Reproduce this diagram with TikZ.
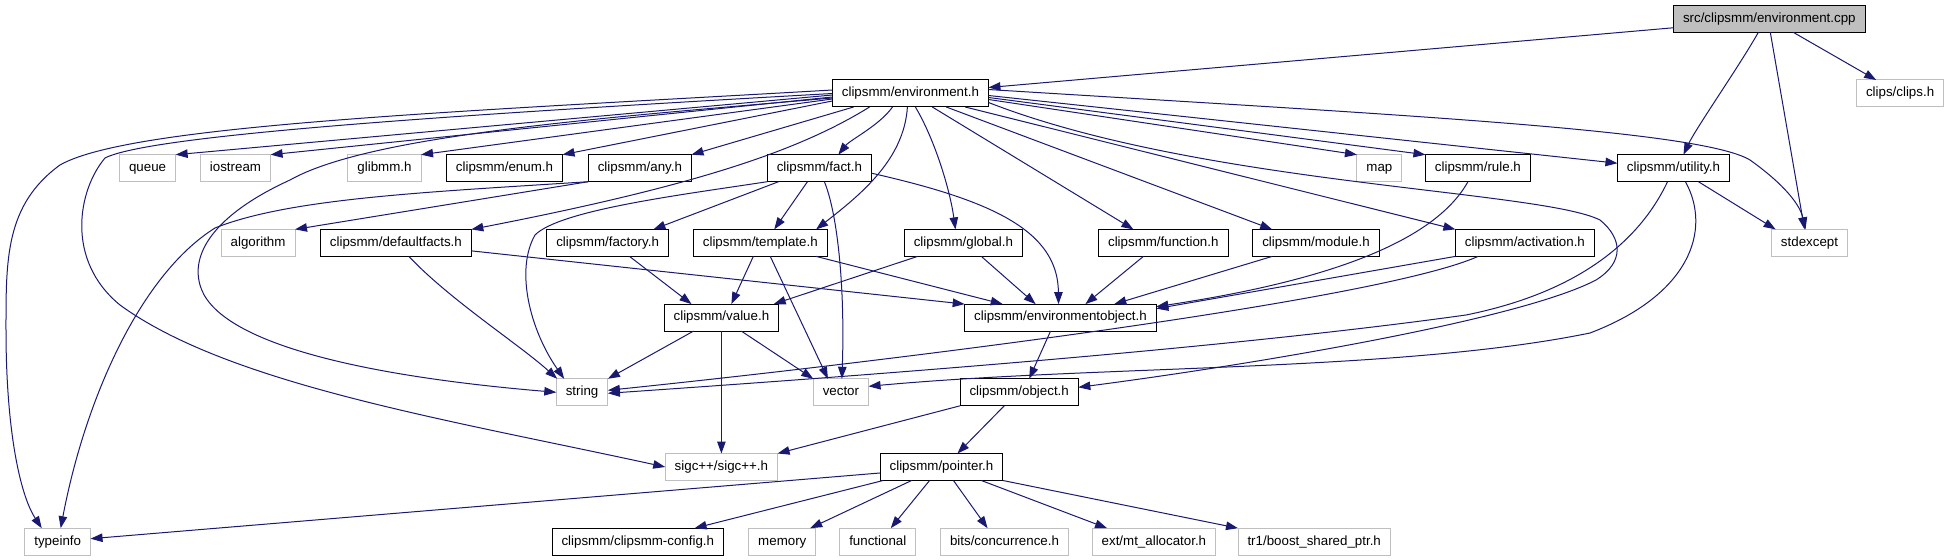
\documentclass[tikz,border=0pt]{standalone}
\usepackage{fontspec}
\setmainfont{Liberation Sans}
\usetikzlibrary{arrows.meta}
\definecolor{dotcolor1}{RGB}{25,25,112}
\definecolor{dotcolor2}{RGB}{191,191,191}
\tikzset{
  incfile/.style={draw=black, line width=1bp, fill=white, minimum height=27bp,
    inner xsep=9.5bp, inner ysep=0pt, text height=9.6bp, text depth=2.8bp,
    font=\fontsize{13.33bp}{16bp}\selectfont},
  sysfile/.style={incfile, draw=dotcolor2},
  srcfile/.style={incfile, fill=dotcolor2},
  incl/.style={draw=dotcolor1, line width=1bp, -{Triangle[length=12bp,width=8.5bp]}}
}
\begin{document}
\begin{tikzpicture}[x=1bp,y=-1bp,inner sep=0pt,outer sep=0pt]
  \useasboundingbox (0,0) rectangle (1953,560);
  % rank 0 and 1
  \node[srcfile] (cpp) at (1769.3,18.8) {src/clipsmm/environment.cpp};
  \node[incfile] (env) at (910.4,93.5) {clipsmm/environment.h};
  \node[sysfile] (clips) at (1900.1,93.5) {clips/clips.h};
  % rank 2
  \node[sysfile] (queue) at (147.6,168.2) {queue};
  \node[sysfile] (iostream) at (235.5,168.2) {iostream};
  \node[sysfile] (glibmm) at (384.5,168.2) {glibmm.h};
  \node[incfile] (enum) at (504.5,168.2) {clipsmm/enum.h};
  \node[incfile] (any) at (639.9,168.2) {clipsmm/any.h};
  \node[incfile] (fact) at (819.4,168.2) {clipsmm/fact.h};
  \node[sysfile] (map) at (1379.4,168.2) {map};
  \node[incfile] (rule) at (1477.9,168.2) {clipsmm/rule.h};
  \node[incfile] (utility) at (1673.5,168.2) {clipsmm/utility.h};
  % rank 3
  \node[sysfile] (algorithm) at (258.1,242.9) {algorithm};
  \node[incfile] (defaultfacts) at (395.9,242.9) {clipsmm/defaultfacts.h};
  \node[incfile] (factory) at (607.6,242.9) {clipsmm/factory.h};
  \node[incfile] (template) at (760.3,242.9) {clipsmm/template.h};
  \node[incfile] (global) at (963.4,242.9) {clipsmm/global.h};
  \node[incfile] (function) at (1163.3,242.9) {clipsmm/function.h};
  \node[incfile] (module) at (1316.0,242.9) {clipsmm/module.h};
  \node[incfile] (activation) at (1524.9,242.9) {clipsmm/activation.h};
  \node[sysfile] (stdexcept) at (1809.5,242.9) {stdexcept};
  % rank 4 and 5
  \node[incfile] (value) at (721.4,317.6) {clipsmm/value.h};
  \node[incfile] (envobject) at (1060.5,317.6) {clipsmm/environmentobject.h};
  \node[sysfile] (string) at (582.1,392.3) {string};
  \node[sysfile] (vector) at (840.9,392.3) {vector};
  \node[incfile] (object) at (1019.2,392.3) {clipsmm/object.h};
  % rank 6 and 7
  \node[sysfile] (sigc) at (721.4,467.0) {sigc++/sigc++.h};
  \node[incfile] (pointer) at (941.5,467.0) {clipsmm/pointer.h};
  \node[sysfile] (typeinfo) at (57.7,541.7) {typeinfo};
  \node[incfile] (config) at (637.8,541.7) {clipsmm/clipsmm-config.h};
  \node[sysfile] (memory) at (782.3,541.7) {memory};
  \node[sysfile] (functional) at (877.8,541.7) {functional};
  \node[sysfile] (bits) at (1004.5,541.7) {bits/concurrence.h};
  \node[sysfile] (mtalloc) at (1153.9,541.7) {ext/mt\_allocator.h};
  \node[sysfile] (tr1) at (1314.2,541.7) {tr1/boost\_shared\_ptr.h};

  % environment.cpp
  \draw[incl] ([yshift=-9]cpp.west) -- ([yshift=6]env.east);
  \draw[incl] ([xshift=-11]cpp.south) .. controls (1740,65) and (1696,128) .. ([xshift=10]utility.north);
  \draw[incl] ([xshift=1]cpp.south) -- ([xshift=-5]stdexcept.north);
  \draw[incl] ([xshift=24]cpp.south) -- ([xshift=-24]clips.north);

  % environment.h, to the left
  \draw[incl] ([yshift=3.5]env.west) .. controls (450,112) and (130,125) .. (60,165)
    .. controls (5,205) and (6,260) .. (6,330) .. controls (6,430) and (20,495) .. ([xshift=-16]typeinfo.north);
  \draw[incl] (env.west) .. controls (450,115) and (150,135) .. (105,158)
    .. controls (78,190) and (65,260) .. (120,305) .. controls (230,385) and (450,420) .. (sigc.west);
  \draw[incl] ([yshift=-4.5]env.west) .. controls (600,118) and (370,135) .. (290,180)
    .. controls (220,212) and (190,250) .. (200,285) .. controls (215,340) and (350,375) .. (string.west);
  \draw[incl] ([yshift=-1.5]env.west) -- (queue.north east);
  \draw[incl] ([yshift=-3.5]env.west) -- (iostream.north east);
  \draw[incl] ([yshift=-5.5]env.west) -- (glibmm.north east);
  \draw[incl] ([yshift=-7.5]env.west) -- (enum.north east);

  % environment.h, downwards
  \draw[incl] ([xshift=-41]env.south) .. controls (800,150) and (700,185) .. (defaultfacts.north east);
  \draw[incl] ([xshift=-57]env.south) -- (any.north east);
  \draw[incl] ([xshift=-18]env.south) .. controls (880,125) and (850,140) .. ([xshift=19]fact.north);
  \draw[incl] ([xshift=-3]env.south) .. controls (904,160) and (860,195) .. ([xshift=56]template.north);
  \draw[incl] ([xshift=5]env.south) .. controls (935,140) and (950,190) .. ([xshift=-8]global.north);
  \draw[incl] ([xshift=22]env.south) -- ([xshift=-30]function.north);
  \draw[incl] ([xshift=36]env.south) -- ([xshift=-44]module.north);
  \draw[incl] ([xshift=55]env.south) -- (activation.north west);

  % environment.h, to the right
  \draw[incl] ([yshift=4]env.east) .. controls (1400,115) and (1700,130) .. (1750,160)
    .. controls (1785,185) and (1800,205) .. ([xshift=-4]stdexcept.north);
  \draw[incl] ([yshift=-2]env.east) -- ([yshift=5]utility.west);
  \draw[incl] ([yshift=-4]env.east) -- (rule.north west);
  \draw[incl] ([yshift=-6]env.east) -- (map.north west);
  \draw[incl] ([yshift=-9]env.east) .. controls (1200,185) and (1540,190) .. (1600,220)
    .. controls (1622,238) and (1625,262) .. (1596,280) .. controls (1520,320) and (1250,365) .. ([yshift=5]object.east);

  % second row
  \draw[incl] (any.south west) .. controls (430,192) and (290,198) .. (215,228)
    .. controls (140,275) and (85,400) .. ([xshift=3]typeinfo.north);
  \draw[incl] (any.south west) -- (algorithm.north east);
  \draw[incl] ([xshift=-41]fact.south) -- ([xshift=46]factory.north);
  \draw[incl] ([xshift=-12]fact.south) -- ([xshift=14]template.north);
  \draw[incl] ([xshift=5]fact.south) .. controls (838,215) and (845,290) .. ([xshift=1]vector.north);
  \draw[incl] ([yshift=-5]fact.east) .. controls (990,200) and (1058,230) .. ([xshift=-2]envobject.north);
  \draw[incl] (fact.south west) .. controls (680,195) and (560,210) .. (535,235)
    .. controls (515,270) and (530,330) .. ([xshift=-18]string.north);
  \draw[incl] ([xshift=25]utility.south) -- ([xshift=-34]stdexcept.north);
  \draw[incl] ([xshift=-6]utility.south) .. controls (1640,240) and (1580,292) .. (1466,315)
    .. controls (1200,352) and (800,380) .. ([yshift=-1]string.east);
  \draw[incl] ([xshift=12]utility.south) .. controls (1712,230) and (1690,295) .. (1590,333)
    .. controls (1400,372) and (1100,365) .. ([yshift=6]vector.east);
  \draw[incl] ([xshift=-10]rule.south) .. controls (1430,250) and (1300,285) .. ([yshift=11]envobject.east);

  % third row
  \draw[incl] ([xshift=13]defaultfacts.south) .. controls (450,300) and (520,345) .. ([xshift=-25]string.north);
  \draw[incl] ([yshift=-8]defaultfacts.east) -- (envobject.north west);
  \draw[incl] ([xshift=22]factory.south) -- ([xshift=-30]value.north);
  \draw[incl] ([xshift=-7]template.south) -- ([xshift=10]value.north);
  \draw[incl] ([xshift=10]template.south) -- ([xshift=-13]vector.north);
  \draw[incl] ([xshift=56]template.south) -- ([xshift=-58]envobject.north);
  \draw[incl] ([xshift=-46]global.south) -- ([xshift=-5]value.north east);
  \draw[incl] ([xshift=18]global.south) -- ([xshift=-25]envobject.north);
  \draw[incl] ([xshift=-20]function.south) -- ([xshift=25]envobject.north);
  \draw[incl] ([xshift=-44]module.south) -- ([xshift=54]envobject.north);
  \draw[incl] (activation.south west) -- ([yshift=9]envobject.east);
  \draw[incl] ([xshift=-47]activation.south) .. controls (1380,300) and (900,360) .. ([yshift=2]string.east);

  % lower rows
  \draw[incl] ([xshift=-28]value.south) -- (string.north east);
  \draw[incl] ([xshift=20]value.south) -- (vector.north west);
  \draw[incl] (value) -- (sigc);
  \draw[incl] ([xshift=-10]envobject.south) -- ([xshift=10]object.north);
  \draw[incl] (object.south west) -- (sigc.north east);
  \draw[incl] ([xshift=-15]object.south) -- ([xshift=16]pointer.north);
  \draw[incl] ([yshift=-6]pointer.west) -- ([yshift=3]typeinfo.east);
  \draw[incl] ([xshift=3]pointer.south west) -- ([xshift=57]config.north);
  \draw[incl] ([xshift=-30]pointer.south) -- ([xshift=28]memory.north);
  \draw[incl] ([xshift=-12]pointer.south) -- ([xshift=13]functional.north);
  \draw[incl] ([xshift=12]pointer.south) -- ([xshift=-17]bits.north);
  \draw[incl] ([xshift=40]pointer.south) -- ([xshift=-47]mtalloc.north);
  \draw[incl] (pointer.south east) -- (tr1.north west);
\end{tikzpicture}
\end{document}
